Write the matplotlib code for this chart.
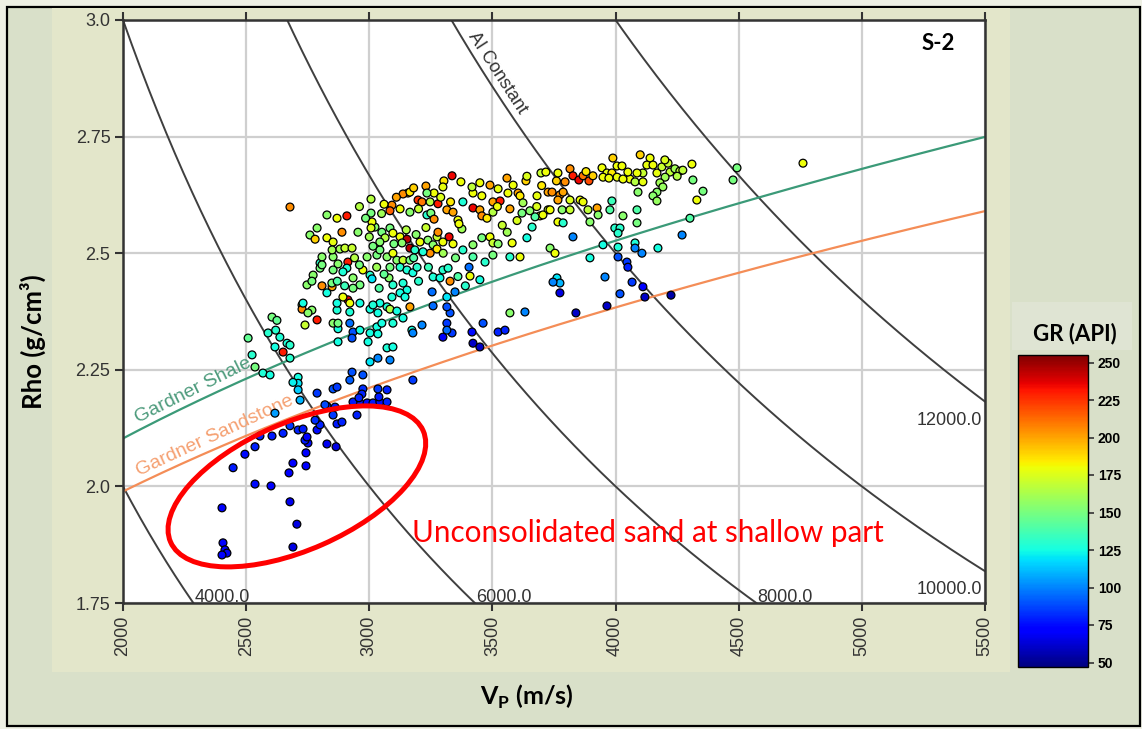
import numpy as np
import matplotlib
matplotlib.use("Agg")
import matplotlib.pyplot as plt
from matplotlib.patches import Ellipse, Rectangle
from matplotlib.transforms import ScaledTranslation

# axes
vp_ticks = [2000, 2500, 3000, 3500, 4000, 4500, 5000, 5500]
rho_ticks = [1.75, 2.0, 2.25, 2.5, 2.75, 3.0]
rho_ticklabels = ['1.75', '2.0', '2.25', '2.5', '2.75', '3.0']
gr_ticks = [50, 75, 100, 125, 150, 175, 200, 225, 250]
gr_range = [47, 255]

# constant acoustic impedance levels
ai_levels = [4000, 6000, 8000, 10000, 12000]

# Gardner trends: rho = a * Vp(km/s)^b
gardner_shale = [1.75, 0.265]
gardner_sand = [1.66, 0.261]

# log samples, (Vp m/s, rho g/cc, GR API)
shallow_pts = [
    (2402, 1.954, 72), (2406, 1.879, 70), (2414, 1.864, 72), (2422, 1.857, 68), (2402, 1.853, 70),
    (2536, 2.005, 75), (2601, 2.001, 72), (2678, 1.967, 68), (2706, 1.919, 65), (2690, 1.870, 65),
    (2447, 2.040, 78), (2495, 2.069, 75), (2536, 2.085, 80), (2556, 2.108, 80), (2605, 2.108, 78),
    (2650, 2.114, 80), (2690, 2.050, 70), (2674, 2.029, 72), (2743, 2.044, 70), (2743, 2.072, 72),
    (2751, 2.093, 75), (2739, 2.099, 78), (2747, 2.106, 72), (2711, 2.121, 80), (2731, 2.123, 78),
    (2678, 2.130, 85), (2828, 2.091, 68), (2865, 2.085, 65), (2788, 2.121, 75), (2800, 2.132, 80),
    (2780, 2.142, 82), (2869, 2.134, 78), (2889, 2.138, 80), (2950, 2.153, 80),
]

sand_pts = [
    (2962, 2.179, 78), (2991, 2.179, 75), (3015, 2.179, 78), (3043, 2.181, 75), (3072, 2.181, 80),
    (3039, 2.192, 78), (3072, 2.207, 80), (3035, 2.209, 85), (2974, 2.209, 82), (2970, 2.198, 80),
    (2934, 2.181, 78), (2958, 2.190, 80), (2861, 2.170, 80), (2828, 2.172, 82), (2853, 2.209, 90),
    (2869, 2.213, 85), (2788, 2.200, 85), (2719, 2.185, 110), (2617, 2.157, 105), (3177, 2.228, 85),
    (2974, 2.239, 90), (2930, 2.245, 90), (3003, 2.267, 120), (3035, 2.275, 100), (3084, 2.271, 100),
    (2820, 2.175, 88), (2853, 2.153, 85), (2921, 2.228, 92),
]

cyan_pts = [
    (2508, 2.318, 145), (2524, 2.282, 130), (2536, 2.256, 150), (2568, 2.243, 128), (2597, 2.239, 125),
    (2589, 2.329, 130), (2605, 2.363, 150), (2625, 2.356, 145), (2637, 2.320, 128), (2617, 2.299, 125),
    (2650, 2.288, 230), (2666, 2.307, 128), (2678, 2.303, 130), (2678, 2.275, 130), (2711, 2.234, 125),
    (2711, 2.221, 120), (2690, 2.223, 122), (2620, 2.335, 130), (2711, 2.207, 115),
    (2921, 2.350, 95), (2934, 2.331, 90), (2873, 2.310, 125), (2930, 2.318, 90), (2962, 2.335, 125),
    (2995, 2.310, 125), (3031, 2.342, 125), (3051, 2.350, 125), (3035, 2.372, 125), (3072, 2.385, 128),
    (3096, 2.350, 128), (3137, 2.361, 125), (3173, 2.335, 125), (3214, 2.346, 100), (3328, 2.372, 90),
    (3315, 2.350, 85), (3336, 2.329, 85), (3462, 2.350, 90), (3523, 2.331, 80), (3551, 2.335, 80),
    (3417, 2.331, 75), (3421, 2.307, 60), (3449, 2.299, 60), (3571, 2.372, 155), (3632, 2.374, 100),
    (3072, 2.297, 128), (3096, 2.299, 125), (3177, 2.329, 100), (3299, 2.320, 70), (3315, 2.335, 95),
    (2869, 2.378, 128), (2921, 2.374, 128), (2767, 2.378, 155), (3003, 2.380, 125), (3084, 2.380, 165),
    (3112, 2.376, 125), (2873, 2.338, 125), (3003, 2.329, 125), (3035, 2.327, 125),
]

mid_pts = [
    (2727, 2.389, 150), (2727, 2.380, 205), (2751, 2.372, 155), (2788, 2.357, 230), (2739, 2.346, 170),
    (2853, 2.350, 155), (2873, 2.350, 150), (2747, 2.432, 155), (2772, 2.453, 155), (2800, 2.479, 130),
    (2800, 2.468, 150), (2808, 2.430, 205), (2849, 2.428, 200), (2828, 2.415, 125), (2853, 2.492, 155),
    (2873, 2.477, 155), (2853, 2.464, 150), (2913, 2.481, 230), (2909, 2.468, 128), (2893, 2.460, 128),
    (2934, 2.447, 155), (2974, 2.464, 180), (3003, 2.453, 130), (3011, 2.445, 120), (2991, 2.492, 155),
    (3031, 2.496, 150), (3043, 2.507, 150), (3072, 2.492, 155), (3096, 2.500, 180), (3112, 2.485, 155),
    (3137, 2.485, 170), (3084, 2.470, 150), (3125, 2.470, 130), (3153, 2.464, 128), (3177, 2.458, 125),
    (3194, 2.470, 130), (3165, 2.485, 150), (3080, 2.447, 155), (3096, 2.432, 130), (3137, 2.436, 128),
    (3153, 2.421, 125), (3125, 2.415, 125), (3092, 2.406, 128), (3145, 2.406, 125), (3165, 2.385, 200),
    (3259, 2.449, 128), (3287, 2.447, 125), (3299, 2.464, 130), (3320, 2.468, 130), (3328, 2.440, 205),
    (3348, 2.417, 100), (3255, 2.417, 95), (3315, 2.406, 120), (3259, 2.387, 95), (3315, 2.385, 90),
    (2962, 2.432, 150), (2934, 2.425, 150), (2913, 2.400, 235), (2921, 2.393, 180), (2893, 2.406, 180),
    (2869, 2.393, 125), (3043, 2.393, 125), (3015, 2.389, 128), (2962, 2.393, 125), (2731, 2.393, 125),
    (2808, 2.492, 155), (2808, 2.475, 150), (2767, 2.440, 150), (2848, 2.436, 150),
    (2940, 2.490, 165), (2960, 2.475, 150), (3030, 2.470, 160), (3060, 2.455, 145), (3200, 2.440, 130),
    (2870, 2.440, 140), (2900, 2.430, 135), (3040, 2.425, 140), (3360, 2.450, 140), (3390, 2.430, 130),
]

upper_pts = [
    (2678, 2.599, 205), (2828, 2.582, 155), (2869, 2.575, 180), (2909, 2.580, 230), (2788, 2.554, 155),
    (2889, 2.545, 205), (2954, 2.545, 155), (2759, 2.539, 155), (2780, 2.530, 190), (2828, 2.533, 180),
    (2853, 2.524, 178), (2849, 2.507, 160), (2881, 2.509, 160), (2901, 2.511, 170), (2930, 2.511, 170),
    (3023, 2.556, 155), (3051, 2.545, 150), (3084, 2.554, 150), (3096, 2.543, 180), (3064, 2.533, 165),
    (3043, 2.524, 155), (3015, 2.515, 150), (3125, 2.535, 180), (3153, 2.530, 245), (3133, 2.522, 155),
    (3165, 2.511, 245), (3185, 2.507, 130), (3206, 2.524, 180), (3238, 2.528, 155), (3275, 2.535, 170),
    (3259, 2.518, 155), (3279, 2.545, 205), (3324, 2.535, 235), (3299, 2.524, 180), (3340, 2.520, 180),
    (3275, 2.509, 185), (3247, 2.500, 205), (3218, 2.503, 128), (3380, 2.507, 130), (3421, 2.518, 155),
    (3457, 2.533, 150), (3490, 2.535, 180), (3502, 2.522, 170), (3523, 2.520, 155), (3580, 2.522, 180),
    (3421, 2.492, 140), (3502, 2.496, 150), (3571, 2.492, 130), (3612, 2.492, 180), (3470, 2.481, 130),
    (3405, 2.470, 95), (3409, 2.451, 180), (3449, 2.443, 125), (3640, 2.533, 125),
    (3336, 2.666, 235), (3303, 2.655, 185), (3372, 2.653, 180), (3299, 2.642, 178), (3230, 2.644, 200),
    (3263, 2.629, 180), (3234, 2.629, 150), (3157, 2.629, 200), (3137, 2.627, 205), (3165, 2.631, 185),
    (3198, 2.614, 225), (3214, 2.610, 210), (3247, 2.610, 165), (3279, 2.606, 230), (3007, 2.616, 165),
    (3092, 2.603, 205), (3084, 2.591, 215), (3125, 2.595, 180), (3165, 2.588, 155), (3007, 2.586, 150),
    (3011, 2.567, 180), (3007, 2.554, 175), (3234, 2.582, 130), (3250, 2.586, 150), (3263, 2.573, 205),
    (3315, 2.593, 200), (3340, 2.588, 200), (3360, 2.571, 180), (3380, 2.610, 128), (3376, 2.552, 160),
    (3364, 2.563, 180), (3421, 2.597, 235), (3449, 2.593, 200), (3457, 2.580, 205), (3478, 2.575, 185),
    (3502, 2.588, 165), (3502, 2.610, 200), (3531, 2.612, 230), (3457, 2.623, 180), (3421, 2.629, 180),
    (3417, 2.642, 168), (3449, 2.651, 180), (3490, 2.646, 200), (3523, 2.638, 178), (3559, 2.661, 200),
    (3584, 2.646, 180), (3636, 2.655, 190), (3563, 2.629, 180), (3604, 2.629, 200), (3612, 2.623, 185),
    (3624, 2.608, 160), (3681, 2.623, 178), (3571, 2.595, 200), (3620, 2.586, 150), (3652, 2.591, 155),
    (3693, 2.580, 180), (3673, 2.578, 140), (3661, 2.556, 130), (3726, 2.593, 170), (3697, 2.672, 170),
    (3726, 2.631, 200),
    (2960, 2.600, 165), (2985, 2.575, 150), (3050, 2.585, 160), (3060, 2.605, 180), (3110, 2.620, 200),
    (3180, 2.640, 190), (3200, 2.595, 170), (3290, 2.620, 175), (3330, 2.610, 185), (3000, 2.535, 160),
    (3150, 2.550, 165), (3190, 2.540, 155), (3230, 2.555, 170), (3100, 2.520, 150), (3180, 2.490, 140),
    (3240, 2.470, 135), (3350, 2.490, 150), (3300, 2.500, 160), (3540, 2.560, 170), (3600, 2.570, 175),
    (3560, 2.545, 160), (3520, 2.600, 180), (3680, 2.600, 175), (3760, 2.655, 190), (3640, 2.665, 175),
    (3700, 2.645, 185),
]

fast_pts = [
    (4100, 2.711, 190), (4140, 2.704, 180), (4127, 2.689, 178), (4152, 2.689, 180), (4111, 2.672, 170),
    (4087, 2.672, 180), (4058, 2.659, 180), (4079, 2.653, 165), (4111, 2.653, 178), (4168, 2.672, 178),
    (4188, 2.685, 170), (4213, 2.693, 170), (4221, 2.674, 168), (4241, 2.681, 160), (4261, 2.676, 168),
    (4273, 2.678, 168), (4310, 2.691, 180), (4201, 2.663, 160), (4180, 2.651, 160), (4192, 2.642, 158),
    (4168, 2.631, 155), (4152, 2.623, 155), (4168, 2.612, 158), (4314, 2.657, 150), (4355, 2.633, 150),
    (4330, 2.614, 180), (4302, 2.575, 140), (4493, 2.683, 150), (4477, 2.657, 150), (3989, 2.704, 190),
    (4006, 2.687, 180), (4026, 2.687, 180), (3945, 2.683, 180), (3965, 2.672, 178), (3985, 2.672, 185),
    (4006, 2.663, 180), (4030, 2.659, 180), (4050, 2.674, 180), (3949, 2.663, 180), (3973, 2.661, 180),
    (3815, 2.681, 205), (3827, 2.666, 230), (3851, 2.657, 235), (3868, 2.666, 210), (3892, 2.655, 220),
    (3908, 2.666, 190), (3766, 2.672, 180), (3795, 2.653, 205), (3717, 2.674, 180), (3742, 2.631, 205),
    (3774, 2.625, 205), (3766, 2.614, 200), (3787, 2.631, 200), (3815, 2.614, 175), (3856, 2.614, 180),
    (3868, 2.610, 180), (3734, 2.593, 180), (3783, 2.593, 155), (3815, 2.593, 170), (3888, 2.593, 168),
    (3925, 2.597, 200), (3929, 2.582, 155), (3896, 2.567, 155), (3977, 2.593, 140), (3985, 2.612, 135),
    (4030, 2.580, 155), (4087, 2.593, 140), (4087, 2.565, 150), (4091, 2.631, 155), (3997, 2.554, 130),
    (4018, 2.554, 130), (4010, 2.543, 130), (3705, 2.582, 180), (3766, 2.567, 180), (3787, 2.565, 130),
    (3827, 2.535, 100), (3734, 2.511, 155), (3754, 2.500, 180), (3896, 2.490, 125), (3949, 2.518, 125),
    (4010, 2.513, 128), (4079, 2.522, 128), (4079, 2.511, 100), (4107, 2.500, 100), (4172, 2.511, 125),
    (4270, 2.539, 100), (4010, 2.492, 90), (4046, 2.481, 85), (4050, 2.470, 80), (3762, 2.447, 120),
    (3774, 2.436, 110), (3746, 2.438, 100), (3774, 2.415, 65), (3957, 2.449, 100), (4067, 2.438, 85),
    (4111, 2.428, 70), (4018, 2.413, 90), (4119, 2.406, 60), (4225, 2.410, 55), (3965, 2.387, 60),
    (3839, 2.372, 60), (4761, 2.693, 180), (3880, 2.675, 185), (4200, 2.700, 175), (4250, 2.665, 165),
]

W, H = 1142, 729
light_bg = '#e3e6ca'
dark_bg = '#d9e0c9'
ink = '#333333'


def fx(px):
    return px / W


def fy(py):
    return 1 - py / H


fig = plt.figure(figsize=(W / 100, H / 100), dpi=100)
fig.patch.set_facecolor('#eef0e4')
# panel layers and frame, kept behind the axes
fig.patches.append(Rectangle((fx(7), fy(726)), fx(1133), 719 / H, transform=fig.transFigure,
                             facecolor=dark_bg, edgecolor='black', linewidth=1.6, zorder=-3))
fig.patches.append(Rectangle((fx(52), fy(672)), fx(958), 664 / H, transform=fig.transFigure,
                             facecolor=light_bg, edgecolor='none', zorder=-2))
fig.patches.append(Rectangle((fx(1012), fy(350)), fx(120), 48 / H, transform=fig.transFigure,
                             facecolor='#dfe4d3', edgecolor='none', zorder=-2))

ax = fig.add_axes([fx(123), fy(603), fx(862), 583 / H])
ax.set_facecolor('white')
ax.set_xlim(vp_ticks[0], vp_ticks[-1])
ax.set_ylim(rho_ticks[0], rho_ticks[-1])
ax.set_xticks(vp_ticks)
ax.set_xticklabels([str(v) for v in vp_ticks], rotation=90, fontsize=13,
                   family='Liberation Sans', color=ink)
ax.set_yticks(rho_ticks)
ax.set_yticklabels(rho_ticklabels, fontsize=13, family='Liberation Sans', color=ink)
ax.tick_params(axis='both', length=6, width=1.5, color=ink, pad=3)
ax.tick_params(axis='x', top=True)
ax.grid(True, color='#cfcfcf', linewidth=1.6, zorder=0)
ax.set_axisbelow(True)
for sp in ax.spines.values():
    sp.set_color(ink)
    sp.set_linewidth(1.8)

# AI constant lines
vp_line = np.linspace(vp_ticks[0], vp_ticks[-1], 400)
for ai in ai_levels:
    ax.plot(vp_line, ai / vp_line, color='#3f3f3f', linewidth=1.4, zorder=1)
    rho_end = ai / vp_ticks[-1]
    if rho_end < rho_ticks[0]:
        ax.annotate('%.1f' % ai, (ai / rho_ticks[0], rho_ticks[0]), xytext=(1, 1),
                    textcoords='offset pixels', ha='left', va='baseline', fontsize=13,
                    family='Liberation Sans', color=ink, zorder=2)
    else:
        ax.annotate('%.1f' % ai, (vp_ticks[-1], rho_end), xytext=(-3, -10),
                    textcoords='offset pixels', ha='right', va='top', fontsize=13,
                    family='Liberation Sans', color=ink, zorder=2)

# "AI Constant" along the 10000 line
ai_lab = 10000
rho_lab = 2.87
vp_lab = ai_lab / rho_lab
p0 = ax.transData.transform((vp_lab, rho_lab))
p1 = ax.transData.transform((vp_lab + 50, ai_lab / (vp_lab + 50)))
ang = np.degrees(np.arctan2(p1[1] - p0[1], p1[0] - p0[0]))
ax.annotate('AI Constant', (vp_lab, rho_lab), xytext=(2, 3), textcoords='offset pixels',
            rotation=ang, rotation_mode='anchor', ha='center', va='bottom', fontsize=13,
            family='Liberation Sans', color=ink, zorder=2)

# Gardner trends
for coef, col, tcol, name, vp0 in [(gardner_shale, '#3b9a78', '#4d9b7c', 'Gardner Shale', 2070),
                                    (gardner_sand, '#f48d57', '#f5a071', 'Gardner Sandstone', 2070)]:
    rho_g = coef[0] * (vp_line / 1000.0) ** coef[1]
    ax.plot(vp_line, rho_g, color=col, linewidth=1.6, zorder=1)
    r0 = coef[0] * (vp0 / 1000.0) ** coef[1]
    q0 = ax.transData.transform((vp0, r0))
    r1 = coef[0] * ((vp0 + 200) / 1000.0) ** coef[1]
    q1 = ax.transData.transform((vp0 + 200, r1))
    a = np.degrees(np.arctan2(q1[1] - q0[1], q1[0] - q0[0]))
    ax.annotate(name, (vp0, r0), xytext=(0, 3), textcoords='offset pixels', rotation=a,
                rotation_mode='anchor', ha='left', va='bottom', fontsize=14,
                family='Liberation Sans', color=tcol, zorder=2)

# log samples coloured by gamma ray
pts = np.array(shallow_pts + sand_pts + cyan_pts + mid_pts + upper_pts + fast_pts, dtype=float)
sc = ax.scatter(pts[:, 0], pts[:, 1], c=pts[:, 2], cmap='jet', vmin=gr_range[0], vmax=gr_range[1],
                s=32, edgecolors='black', linewidths=0.9, zorder=3)

ax.text(0.965, 0.959, 'S-2', transform=ax.transAxes, ha='right', va='center',
        fontsize=16, fontweight='bold', family='Lato', color='black', zorder=5)

# shallow unconsolidated zone
zone_center = (2706, 2.0)
ell = Ellipse((0, 0), 2.76, 1.27, angle=23.8, fill=False, edgecolor='#ff0000', linewidth=3.6,
              transform=fig.dpi_scale_trans + ScaledTranslation(*zone_center, ax.transData),
              zorder=6, clip_on=False)
ax.add_patch(ell)
ax.text(4131, 1.900, 'Unconsolidated sand at shallow part', ha='center', va='center',
        fontsize=21.3, family='Lato', color='#ff0000', zorder=6)

# axis titles
fig.text(fx(33), fy(342), 'Rho (g/cm\u00b3)', rotation=90, ha='center', va='center',
         fontsize=18.5, fontweight='bold', family='Lato')
fig.text(fx(527), fy(697), r'V$_\mathregular{P}$ (m/s)', ha='center', va='center',
         fontsize=18, fontweight='bold', family='Lato')

# colour bar
cax = fig.add_axes([fx(1018), fy(667), fx(70), 312 / H])
cb = fig.colorbar(sc, cax=cax, ticks=gr_ticks)
cb.outline.set_linewidth(1.0)
cax.tick_params(length=4, width=1.2, labelsize=10, color=ink, pad=3)
for t in cax.get_yticklabels():
    t.set_fontweight('bold')
    t.set_family('Liberation Sans')
fig.text(fx(1075), fy(334), 'GR (API)', ha='center', va='center', fontsize=16,
         fontweight='bold', family='Lato')

fig.savefig('out.png', dpi=100, facecolor=fig.get_facecolor())
